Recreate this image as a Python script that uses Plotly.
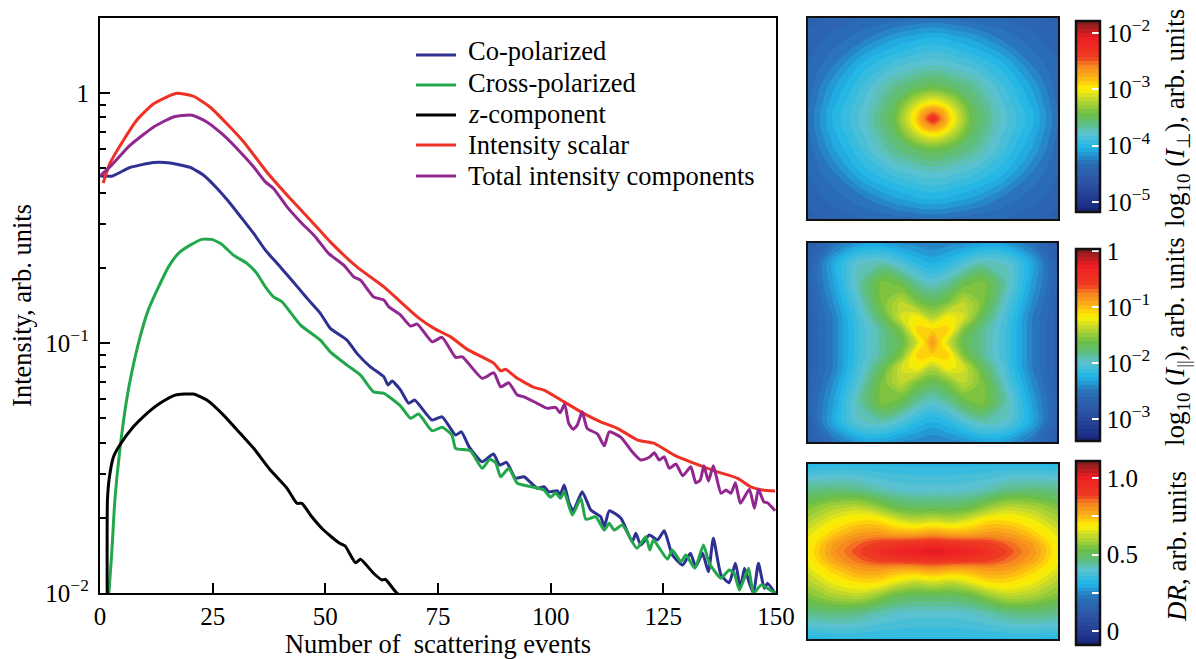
import plotly.graph_objects as go

W, H = 1196, 659
SERIF = "Liberation Serif"

# ---- curves: x positions and log10(intensity) ----
red_x = [0.7,2.2,5.2,8.15,11.9,17,20.7,24.4,28.1,31.9,37,42.2,46.7,51.1,57,63,66.7,70.4,74.1,77.8,81.5,87.4,88.9,90,92.6,96.3,98.5,103,106.7,111.1,114.8,119.3,123,127.4,131.9,137,141.5,144.4,147,149.8]
red_log = [-.359,-.281,-.188,-.108,-.042,0,-.012,-.055,-.121,-.195,-.315,-.421,-.508,-.595,-.695,-.775,-.835,-.895,-.941,-.975,-1.025,-1.081,-1.111,-1.105,-1.141,-1.177,-1.188,-1.235,-1.275,-1.315,-1.341,-1.388,-1.401,-1.448,-1.481,-1.515,-1.541,-1.575,-1.588,-1.592]

purple_x = [0,2.2,6.7,11.9,16.3,20.4,23.7,27.4,31.1,34.1,36.7,38.5,41.5,44.5,47.8,50.7,54.1,56.3,57.8,60.7,63,64.1,66.7,68.9,70.4,73.7,75.9,78.9,80.4,84.8,87.4,88.9,90.7,92.6,94.1,97,99.3,101.1,102.1,103.1,104,105,105.9,107,108.1,110.4,111.9,113,115.6,118.1,120,121.9,123,124.1,125.2,126.3,127.8,129.3,131.1,132.2,133.2,134,135,136.1,137.8,138.9,140,141,142.1,144.1,145.2,146.1,147.3,148.1,149.8]
purple_log = [-.331,-.295,-.208,-.135,-.095,-.088,-.115,-.168,-.235,-.295,-.355,-.381,-.455,-.515,-.575,-.641,-.688,-.735,-.748,-.815,-.828,-.855,-.888,-.932,-.924,-.995,-.977,-1.057,-1.055,-1.141,-1.119,-1.175,-1.159,-1.208,-1.215,-1.241,-1.261,-1.257,-1.279,-1.244,-1.321,-1.345,-1.328,-1.275,-1.341,-1.364,-1.411,-1.355,-1.377,-1.435,-1.468,-1.457,-1.439,-1.468,-1.455,-1.501,-1.484,-1.531,-1.495,-1.559,-1.548,-1.491,-1.552,-1.491,-1.601,-1.588,-1.601,-1.559,-1.641,-1.585,-1.661,-1.585,-1.635,-1.639,-1.671]

blue_x = [0,2.6,6.7,11.9,15.6,20,23,26,28.9,31.5,34.1,36.7,40,44.1,46.3,48.9,51.1,54.8,57,60,63,63.9,64.8,66.7,68.5,69.8,73.7,75.9,78.9,80.2,81.9,84.8,87.3,88.7,90.2,92.2,94.1,97,98.5,99.6,101.5,102.1,103,104.1,105,107,108.9,111.1,111.9,113,115.6,118.1,118.9,120,121.9,123.7,125.2,127,129.3,131,132.2,133.7,135,136.1,137.8,139.6,141,142.1,143,144.1,145,146.1,147.4,148.1,149.8]
blue_log = [-.331,-.332,-.297,-.277,-.279,-.297,-.328,-.381,-.441,-.501,-.561,-.628,-.695,-.781,-.828,-.881,-.941,-.988,-1.041,-1.095,-1.135,-1.168,-1.152,-1.188,-1.241,-1.228,-1.308,-1.295,-1.368,-1.355,-1.415,-1.475,-1.444,-1.488,-1.477,-1.541,-1.535,-1.581,-1.575,-1.595,-1.591,-1.608,-1.568,-1.641,-1.671,-1.595,-1.668,-1.695,-1.735,-1.671,-1.701,-1.795,-1.761,-1.808,-1.768,-1.788,-1.751,-1.848,-1.888,-1.841,-1.895,-1.841,-1.915,-1.781,-1.928,-1.959,-1.881,-1.981,-1.901,-1.961,-2.001,-1.881,-1.981,-1.961,-2.001]

green_x = [1.9,2.6,3.3,4.4,5.9,7,8.9,10.7,13,15.2,17.4,20,22.6,24.8,27,29.6,32.6,34.8,36.7,38.5,40.4,44.5,48.9,51.1,54.8,57.8,60.7,63,66.7,68.9,70.7,73.7,75.9,78.1,78.9,82.2,84.8,86.5,87.8,88.9,90.7,92.6,96.3,98.5,100,101.1,102.2,103,104.8,106.7,107.8,110,111.9,113,114.1,115.9,119.1,121.1,122,122.8,125.9,127,128.9,130,132,133.9,135.2,137.8,139.6,140.7,141.9,143.9,145,146.7,149.8]
green_log = [-2.02,-1.841,-1.628,-1.428,-1.228,-1.121,-.975,-.868,-.775,-.695,-.641,-.608,-.585,-.585,-.604,-.648,-.681,-.721,-.775,-.815,-.835,-.928,-.988,-1.035,-1.088,-1.128,-1.195,-1.201,-1.252,-1.301,-1.284,-1.351,-1.337,-1.368,-1.421,-1.431,-1.501,-1.465,-1.479,-1.535,-1.501,-1.561,-1.577,-1.588,-1.617,-1.599,-1.621,-1.595,-1.688,-1.621,-1.705,-1.695,-1.748,-1.721,-1.748,-1.728,-1.821,-1.775,-1.828,-1.788,-1.865,-1.828,-1.875,-1.848,-1.901,-1.808,-1.881,-1.941,-1.908,-1.921,-1.988,-1.901,-2.001,-1.968,-2.001]

black_x = [1.6,1.65,2.1,3,4.4,7.4,10,13.3,16.7,20.7,23.7,27.4,31.1,34.1,37.8,41.5,43.7,44.8,47,49.6,53,54.4,56.7,57.8,60.7,62.6,63.3,65.6,67.2]
black_log = [-2.02,-1.628,-1.535,-1.455,-1.408,-1.335,-1.288,-1.241,-1.208,-1.204,-1.228,-1.288,-1.361,-1.421,-1.508,-1.581,-1.641,-1.641,-1.695,-1.748,-1.799,-1.812,-1.879,-1.865,-1.921,-1.948,-1.945,-1.995,-2.02]

x_ticks = [0, 25, 50, 75, 100, 125, 150]
y_ticks = [0.01, 0.1, 1]
y_tick_text = ["10<sup>−2</sup>", "10<sup>−1</sup>", "1"]
y_minor = [.02,.03,.04,.05,.06,.07,.08,.09,.2,.3,.4,.5,.6,.7,.8,.9,2]

# ---- maps: coarse grids ----
perp_x = [-1,-.8,-.55,-.32,-.16,-.08,0,.08,.16,.32,.55,.8,1]
perp_y = [-1,-.8,-.55,-.32,-.16,-.08,0,.08,.16,.32,.55,.8,1]
perp_z = [
 [-4.50,-4.45,-4.40,-4.38,-4.35,-4.33,-4.33,-4.33,-4.35,-4.38,-4.40,-4.45,-4.50],
 [-4.45,-4.38,-4.28,-4.14,-4.08,-4.05,-4.04,-4.05,-4.08,-4.14,-4.28,-4.38,-4.45],
 [-4.40,-4.28,-4.03,-3.89,-3.83,-3.80,-3.79,-3.80,-3.83,-3.89,-4.03,-4.28,-4.40],
 [-4.38,-4.14,-3.89,-3.66,-3.56,-3.52,-3.49,-3.52,-3.56,-3.66,-3.89,-4.14,-4.38],
 [-4.35,-4.08,-3.83,-3.56,-3.22,-3.07,-3.00,-3.07,-3.22,-3.56,-3.83,-4.08,-4.35],
 [-4.33,-4.05,-3.80,-3.52,-3.07,-2.78,-2.64,-2.78,-3.07,-3.52,-3.80,-4.05,-4.33],
 [-4.33,-4.04,-3.79,-3.49,-3.00,-2.64,-2.23,-2.64,-3.00,-3.49,-3.79,-4.04,-4.33],
 [-4.33,-4.05,-3.80,-3.52,-3.07,-2.78,-2.64,-2.78,-3.07,-3.52,-3.80,-4.05,-4.33],
 [-4.35,-4.08,-3.83,-3.56,-3.22,-3.07,-3.00,-3.07,-3.22,-3.56,-3.83,-4.08,-4.35],
 [-4.38,-4.14,-3.89,-3.66,-3.56,-3.52,-3.49,-3.52,-3.56,-3.66,-3.89,-4.14,-4.38],
 [-4.40,-4.28,-4.03,-3.89,-3.83,-3.80,-3.79,-3.80,-3.83,-3.89,-4.03,-4.28,-4.40],
 [-4.45,-4.38,-4.28,-4.14,-4.08,-4.05,-4.04,-4.05,-4.08,-4.14,-4.28,-4.38,-4.45],
 [-4.50,-4.45,-4.40,-4.38,-4.35,-4.33,-4.33,-4.33,-4.35,-4.38,-4.40,-4.45,-4.50],
]

par_x = [-1,-.8,-.6,-.4,-.25,-.12,0,.12,.25,.4,.6,.8,1]
par_y = [-1,-.8,-.6,-.4,-.25,-.12,0,.12,.25,.4,.6,.8,1]
par_z = [
 [-2.77,-2.53,-2.36,-2.33,-2.40,-2.43,-2.46,-2.43,-2.40,-2.33,-2.36,-2.53,-2.77],
 [-2.70,-2.29,-1.98,-1.92,-2.05,-2.19,-2.26,-2.19,-2.05,-1.92,-1.98,-2.29,-2.70],
 [-2.67,-2.33,-1.92,-1.57,-1.68,-1.88,-1.98,-1.88,-1.68,-1.57,-1.92,-2.33,-2.67],
 [-2.70,-2.40,-2.02,-1.57,-1.37,-1.58,-1.68,-1.58,-1.37,-1.57,-2.02,-2.40,-2.70],
 [-2.70,-2.46,-2.09,-1.71,-1.30,-1.19,-1.40,-1.19,-1.30,-1.71,-2.09,-2.46,-2.70],
 [-2.70,-2.46,-2.12,-1.85,-1.58,-1.06,-1.05,-1.06,-1.58,-1.85,-2.12,-2.46,-2.70],
 [-2.70,-2.46,-2.12,-1.85,-1.68,-1.30,-0.85,-1.30,-1.68,-1.85,-2.12,-2.46,-2.70],
 [-2.70,-2.46,-2.12,-1.85,-1.58,-1.06,-1.05,-1.06,-1.58,-1.85,-2.12,-2.46,-2.70],
 [-2.70,-2.46,-2.09,-1.71,-1.30,-1.19,-1.40,-1.19,-1.30,-1.71,-2.09,-2.46,-2.70],
 [-2.70,-2.40,-2.02,-1.57,-1.37,-1.58,-1.68,-1.58,-1.37,-1.57,-2.02,-2.40,-2.70],
 [-2.67,-2.33,-1.92,-1.57,-1.68,-1.88,-1.98,-1.88,-1.68,-1.57,-1.92,-2.33,-2.67],
 [-2.70,-2.29,-1.98,-1.92,-2.05,-2.19,-2.26,-2.19,-2.05,-1.92,-1.98,-2.29,-2.70],
 [-2.77,-2.53,-2.36,-2.33,-2.40,-2.43,-2.46,-2.43,-2.40,-2.33,-2.36,-2.53,-2.77],
]

dr_x = [-1,-.8,-.6,-.45,-.3,-.15,0,.15,.3,.45,.6,.8,1]
dr_y = [-1,-.7,-.5,-.35,-.2,-.1,0,.1,.2,.35,.5,.7,1]
dr_z = [
 [.32,.33,.33,.33,.33,.33,.33,.33,.33,.33,.33,.33,.32],
 [.46,.47,.46,.43,.41,.40,.40,.40,.41,.43,.46,.47,.46],
 [.55,.60,.62,.58,.52,.50,.50,.50,.52,.58,.62,.60,.55],
 [.60,.67,.71,.71,.66,.62,.64,.62,.66,.71,.71,.67,.60],
 [.65,.73,.79,.80,.78,.78,.80,.78,.78,.80,.79,.73,.65],
 [.67,.78,.85,.89,.91,.92,.93,.92,.91,.89,.85,.78,.67],
 [.68,.80,.88,.93,.98,1.00,1.03,1.00,.98,.93,.88,.80,.68],
 [.67,.78,.85,.89,.91,.92,.93,.92,.91,.89,.85,.78,.67],
 [.65,.73,.79,.80,.78,.78,.80,.78,.78,.80,.79,.73,.65],
 [.60,.67,.71,.71,.66,.62,.64,.62,.66,.71,.71,.67,.60],
 [.55,.60,.62,.58,.52,.50,.50,.50,.52,.58,.62,.60,.55],
 [.46,.47,.46,.43,.41,.40,.40,.40,.41,.43,.46,.47,.46],
 [.32,.33,.33,.33,.33,.33,.33,.33,.33,.33,.33,.33,.32],
]

jet = [[0,"#15206b"],[.03,"#1c2f86"],[.15,"#2d52a3"],[.255,"#2a6fb8"],[.335,"#1fb6e8"],
       [.41,"#5cc2cf"],[.465,"#5fbe7a"],[.515,"#6dbe45"],[.60,"#cbdb2a"],[.645,"#fff200"],
       [.71,"#fbb017"],[.77,"#f58220"],[.81,"#ef3e23"],[.915,"#ed1c24"],[.985,"#8f1d1d"],[1,"#7a1a1a"]]

fig = go.Figure()
series = [
    ("Co-polarized", blue_x, blue_log, "#2e3192"),
    ("Cross-polarized", green_x, green_log, "#22a84a"),
    ("<i>z</i>-component", black_x, black_log, "#000000"),
    ("Intensity scalar", red_x, red_log, "#ee3124"),
    ("Total intensity components", purple_x, purple_log, "#92278f"),
]
for name, xs, ys, col in series:
    fig.add_trace(go.Scatter(x=xs, y=[10 ** v for v in ys], mode="lines", name=name, showlegend=False,
                             line=dict(color=col, width=3, shape="spline", smoothing=0.5)))

def xd(a, b): return [a / W, b / W]
def yd(top, bot): return [(H - bot) / H, (H - top) / H]

font = dict(family=SERIF, size=25, color="black")
panels = [
    (perp_x, perp_y, perp_z, "2", -5.18, -1.79, (808,1058,18,219), (21,212),
     [-5,-4,-3,-2], ["10<sup>−5</sup>","10<sup>−4</sup>","10<sup>−3</sup>","10<sup>−2</sup>"]),
    (par_x, par_y, par_z, "3", -3.39, 0.036, (808,1057,243,442), (249,441),
     [-3,-2,-1,0], ["10<sup>−3</sup>","10<sup>−2</sup>","10<sup>−1</sup>","1"]),
    (dr_x, dr_y, dr_z, "4", -0.09, 1.11, (808,1058,464,639), (461,645),
     [0,.25,.5,.75,1], ["0","","0.5","","1.0"]),
]
layout_axes = {}
for px, py, pz, n, zmin, zmax, (l, r, t, b), (ct, cb), tv, tt in panels:
    fig.add_trace(go.Contour(
        x=px, y=py, z=pz, xaxis="x" + n, yaxis="y" + n, zmin=zmin, zmax=zmax,
        autocontour=False, contours=dict(start=zmin, end=zmax, size=(zmax - zmin) / 48, coloring="fill", showlines=False),
        line=dict(width=0, smoothing=1.0),
        colorscale=jet, showlegend=False, hoverinfo="skip",
        colorbar=dict(x=1076 / W, xanchor="left", xpad=0, ypad=0, thickness=24, thicknessmode="pixels",
                      len=(cb - ct) / H, lenmode="fraction", y=(H - cb) / H, yanchor="bottom",
                      tickmode="array", tickvals=tv, ticktext=tt, ticks="inside", ticklen=9,
                      tickwidth=2, tickcolor="white", tickfont=font,
                      outlinewidth=2.5, outlinecolor="#111111", borderwidth=0)))
    layout_axes["xaxis" + n] = dict(domain=xd(l, r), range=[-1, 1], anchor="y" + n, showticklabels=False,
                                    ticks="", showgrid=False, zeroline=False, showline=True, mirror=True,
                                    linecolor="#111111", linewidth=2)
    layout_axes["yaxis" + n] = dict(domain=yd(t, b), range=[-1, 1], anchor="x" + n, showticklabels=False,
                                    ticks="", showgrid=False, zeroline=False, showline=True, mirror=True,
                                    linecolor="#111111", linewidth=2)

# legend key rows, in page pixels
legend_text_y = [51, 83, 114, 145, 176]
legend_line_y = [55, 85, 115, 145, 176]
shapes, annos = [], []
for (name, _, _, col), ty, ly in zip(series, legend_text_y, legend_line_y):
    shapes.append(dict(type="line", xref="paper", yref="paper", x0=416 / W, x1=456 / W,
                       y0=(H - ly) / H, y1=(H - ly) / H, line=dict(color=col, width=3)))
    annos.append(dict(text=name, x=466 / W, y=(H - ty) / H, xref="paper", yref="paper", xanchor="left",
                      yanchor="middle", showarrow=False, font=dict(family=SERIF, size=26.5, color="black")))

for text, cy in [("log<sub>10</sub> (<i>I</i><sub>⊥</sub>), arb. units", 118),
                 ("log<sub>10</sub> (<i>I</i><sub>||</sub>), arb. units", 342),
                 ("<i>DR</i>, arb. units", 547)]:
    annos.append(dict(text=text, x=1177 / W, y=(H - cy) / H, xref="paper", yref="paper", xanchor="center",
                      yanchor="middle", textangle=-90, showarrow=False, font=dict(family=SERIF, size=27)))

fig.update_layout(
    width=W, height=H, autosize=False, paper_bgcolor="white", plot_bgcolor="white",
    margin=dict(l=0, r=0, t=0, b=0, autoexpand=False), font=font, showlegend=False,
    xaxis=dict(domain=xd(100, 776), range=[0, 150], tickmode="array", tickvals=x_ticks, ticks="inside",
               ticklen=10, tickwidth=1.5, tickcolor="black", showgrid=False, zeroline=False, showline=True,
               mirror=True, linecolor="black", linewidth=2.2, tickfont=font, anchor="y",
               title=dict(text="Number of  scattering events", font=dict(family=SERIF, size=26.5), standoff=1)),
    yaxis=dict(domain=yd(18, 593), type="log", range=[-2, 0.30103], tickmode="array", tickvals=y_ticks,
               ticktext=y_tick_text, ticks="inside", ticklen=10, tickwidth=1.5, tickcolor="black",
               ticklabelstandoff=4,
               minor=dict(tickmode="array", tickvals=y_minor, ticks="inside", ticklen=6, tickwidth=1.5,
                          tickcolor="black", showgrid=False),
               showgrid=False, zeroline=False, showline=True, mirror=True, linecolor="black", linewidth=2.2,
               tickfont=font, anchor="x",
               title=dict(text="Intensity, arb. units", font=dict(family=SERIF, size=26.5), standoff=6)),
    shapes=shapes, annotations=annos,
    **layout_axes,
)
fig.write_html("out.html", config=dict(displayModeBar=False), post_script="document.body.style.margin='0';")
